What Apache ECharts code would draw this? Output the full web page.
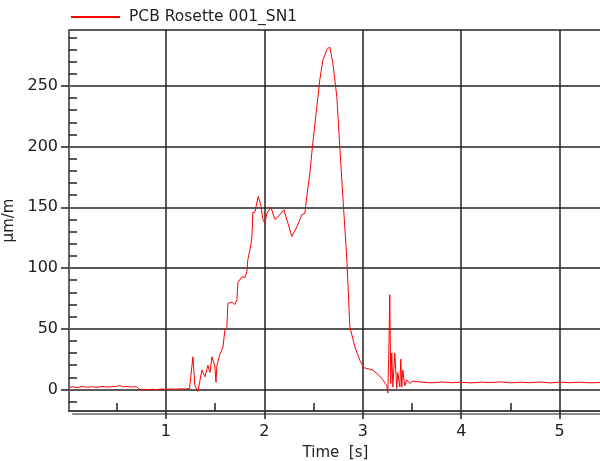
<!DOCTYPE html>
<html>
<head>
<meta charset="utf-8">
<script src="https://cdn.jsdelivr.net/npm/echarts@6/dist/echarts.min.js"></script>
<style>
  html, body { margin: 0; padding: 0; background: #fff; }
  #chart { width: 600px; height: 461px; }
</style>
</head>
<body>
<div id="chart"></div>
<script>
// time [s] and strain [µm/m]
const timeValues = [
  0.02, 0.05, 0.10, 0.15, 0.20, 0.25, 0.30, 0.35, 0.40, 0.45, 0.50, 0.53, 0.56, 0.60, 0.65, 0.70,
  0.72, 0.74, 0.78, 0.82, 0.86, 0.90, 0.95, 1.00, 1.05, 1.10, 1.15, 1.20, 1.24, 1.26,
  1.274, 1.294, 1.325, 1.365, 1.396, 1.426, 1.447, 1.467, 1.497, 1.508, 1.518, 1.548, 1.579,
  1.599, 1.619, 1.629, 1.670, 1.700, 1.721, 1.731, 1.772, 1.802, 1.822, 1.832, 1.853, 1.873,
  1.883, 1.904, 1.919, 1.937, 1.964, 1.985, 2.005, 2.025, 2.066, 2.107, 2.137, 2.198, 2.239,
  2.279, 2.330, 2.381, 2.411, 2.431, 2.462, 2.492, 2.533, 2.563, 2.594, 2.635, 2.665, 2.695,
  2.736, 2.766, 2.797, 2.838, 2.868, 2.919, 2.970, 3.010, 3.102, 3.173, 3.203, 3.244, 3.254,
  3.264, 3.274, 3.284, 3.294, 3.305, 3.325, 3.345, 3.355, 3.376, 3.386, 3.396, 3.406, 3.426,
  3.447, 3.477, 3.51, 3.548, 3.6, 3.7, 3.8, 3.9, 4.0, 4.1, 4.2, 4.3, 4.4, 4.5, 4.6, 4.7, 4.8,
  4.9, 5.0, 5.1, 5.2, 5.3, 5.42
]
const strainValues = [
  1.8, 2.2, 1.6, 2.4, 1.9, 2.3, 1.7, 2.5, 2.0, 2.3, 2.6, 3.4, 2.2, 2.5, 2.0, 2.4,
  1.0, -0.5, 0.2, -0.4, 0.3, -0.2, 0.4, 0.0, 0.5, 0.2, 0.6, 0.4, 1.0, 2,
  27, 3, -1.6, 16, 10.5, 20, 14, 27, 19, 6, 20, 29, 35,
  49, 51, 71, 72, 70, 74, 88, 93, 92, 97, 107, 115, 125,
  146, 146, 152, 159, 152, 140, 137, 145, 150, 140, 142, 148, 137,
  126, 134, 144, 145, 159, 178, 203, 233, 255, 271, 280, 282, 269,
  241, 200, 159, 107, 52, 35, 24, 18, 16, 11, 8, 3, -3,
  30, 78, 5, 30, 2, 30, 1, 14, 2, 25, 2, 16, 3,
  8, 5, 7, 6.5, 6, 5.5, 6.2, 5.6, 6.0, 5.4, 6.1, 5.7, 6.3, 5.5, 6.0, 5.6, 6.2,
  5.4, 6.1, 5.6, 6.0, 5.5, 5.8
]

const xMajorTicks = [1, 2, 3, 4, 5]
const xMinorTicks = [0.5, 1.5, 2.5, 3.5, 4.5]
const yMajorTicks = [0, 50, 100, 150, 200, 250]
const yMinorTicks = [-10, 10, 20, 30, 40, 60, 70, 80, 90, 110, 120, 130, 140, 160, 170, 180, 190,
  210, 220, 230, 240, 260, 270, 280, 290]

const xMin = 0.015
const xMax = 5.43
const yMin = -17.7
const yMax = 296

const chart = echarts.init(document.getElementById("chart"), null, { renderer: "canvas" })

const font = "DejaVu Sans"
const axisColor = "#222"

chart.setOption({
  animation: false,
  textStyle: { fontFamily: font },
  legend: {
    left: 70,
    top: 9,
    padding: 0,
    itemWidth: 49,
    itemHeight: 14,
    itemStyle: { opacity: 0 },
    textStyle: { fontSize: 15.5, color: "#222", fontFamily: font, padding: [0, 0, 0, 4] },
    data: ["PCB Rosette 001_SN1"]
  },
  grid: {
    left: 69,
    right: -2,
    top: 30,
    bottom: 50,
    show: true,
    borderColor: axisColor,
    borderWidth: 1.5,
    backgroundColor: "transparent",
    containLabel: false,
    outerBoundsMode: "none"
  },
  xAxis: [
    {
      type: "value",
      min: xMin,
      max: xMax,
      position: "bottom",
      name: "Time  [s]",
      nameLocation: "middle",
      nameGap: 35,
      nameTextStyle: { fontSize: 15, color: "#222", fontFamily: font },
      axisLine: {
        onZero: false,
        lineStyle: {
          color: "#444",
          width: 2,
          shadowColor: "rgba(0,0,0,0.45)",
          shadowOffsetX: 4,
          shadowOffsetY: 3
        }
      },
      axisTick: { show: true, length: 8, customValues: xMajorTicks, lineStyle: { color: axisColor, width: 1.5 } },
      axisLabel: { customValues: xMajorTicks, margin: 13, fontSize: 16, color: "#1a1a1a", fontFamily: font },
      splitLine: { show: true, lineStyle: { color: axisColor, width: 1.5 } }
    },
    {
      type: "value",
      min: xMin,
      max: xMax,
      position: "bottom",
      axisLine: { show: false, onZero: false },
      axisTick: { show: true, inside: true, length: 8, customValues: xMinorTicks, lineStyle: { color: axisColor, width: 1.5 } },
      axisLabel: { show: false },
      splitLine: { show: false }
    }
  ],
  yAxis: [
    {
      type: "value",
      min: yMin,
      max: yMax,
      splitNumber: 6,
      position: "left",
      name: "µm/m",
      nameLocation: "middle",
      nameRotate: 90,
      nameGap: 45,
      nameTextStyle: { fontSize: 15, color: "#222", fontFamily: font },
      axisLine: { show: true, onZero: false, lineStyle: { color: "#666", width: 2 } },
      axisTick: { show: true, length: 8, customValues: yMajorTicks, lineStyle: { color: axisColor, width: 1.5 } },
      axisLabel: { customValues: yMajorTicks, margin: 11, fontSize: 16, color: "#1a1a1a", fontFamily: font },
      splitLine: { show: true, lineStyle: { color: axisColor, width: 1.5 } }
    },
    {
      type: "value",
      min: yMin,
      max: yMax,
      position: "left",
      axisLine: { show: false, onZero: false },
      axisTick: { show: true, inside: true, length: 8, customValues: yMinorTicks, lineStyle: { color: axisColor, width: 1.5 } },
      axisLabel: { show: false },
      splitLine: { show: false }
    }
  ],
  series: [
    {
      name: "PCB Rosette 001_SN1",
      type: "line",
      xAxisIndex: 0,
      yAxisIndex: 0,
      symbol: "none",
      lineStyle: { color: "#ff0000", width: 1 },
      itemStyle: { color: "#ff0000" },
      data: timeValues.map((t, i) => [t, strainValues[i]])
    }
  ]
})
</script>
</body>
</html>
